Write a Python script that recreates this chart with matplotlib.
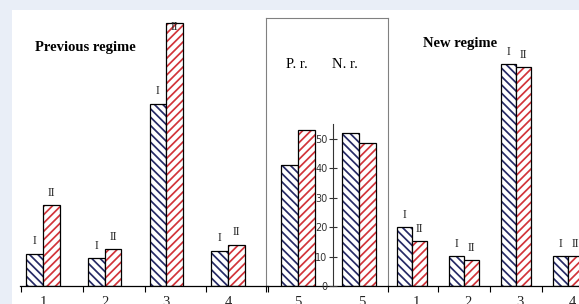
import numpy as np
import matplotlib.pyplot as plt
from matplotlib.patches import Rectangle

plt.rcParams['hatch.linewidth'] = 1.25
SERIF = 'Liberation Serif'

# data
prev_labels = ['1', '2', '3', '4']
prev_I = [11, 9.5, 62, 12]
prev_II = [27.5, 12.6, 89.5, 14]

mid_labels = ['5', '5']          # P.r. / N.r.
mid_I = [41, 52]
mid_II = [53, 48.5]

new_labels = ['1', '2', '3', '4']
new_I = [20, 10.2, 75.5, 10.2]
new_II = [15.3, 8.8, 74.5, 10.2]

inner_ticks = [0, 10, 20, 30, 40, 50]

NAVY = '#262a66'
RED = '#d2343a'
W, H = 579, 304
S = 2.94      # px per unit
BASE = 286    # baseline, px from top

fig = plt.figure(figsize=(W / 100, H / 100), dpi=100, facecolor='#e9eef7')
fig.patches.append(Rectangle((12 / W, 0), 1, (H - 10) / H, transform=fig.transFigure,
                             facecolor='white', edgecolor='none', zorder=-10))


def axes_px(x0, x1, ytop):
    ax = fig.add_axes([x0 / W, (H - BASE) / H, (x1 - x0) / W, (BASE - ytop) / H])
    ax.set_ylim(0, (BASE - ytop) / S)
    ax.patch.set_alpha(0)
    ax.set_yticks([])
    for s in ['top', 'right', 'left']:
        ax.spines[s].set_visible(False)
    ax.spines['bottom'].set_linewidth(0.9)
    return ax


def pair(ax, x, a, b, w):
    x = np.asarray(x, float)
    for off, v, col, h in [(-w / 2, a, NAVY, '\\\\\\\\'), (w / 2, b, RED, '////')]:
        ax.bar(x + off, v, w, facecolor='white', edgecolor=col, hatch=h, linewidth=0)
        ax.bar(x + off, v, w, fill=False, edgecolor='black', linewidth=0.9)


def roman(ax, x, a, b, w, cap):
    for xi, ai, bi in zip(x, a, b):
        ax.text(xi - w / 2, min(ai + 4.2, cap), 'I', ha='center', va='center',
                family=SERIF, fontsize=8.5, color='#222')
        ax.text(xi + w / 2, min(bi + 4.2, cap), 'II', ha='center', va='center',
                family=SERIF, fontsize=8.5, color='#222')


def xlabels(ax, x, labels):
    ax.set_xticks(x, labels, minor=True)
    ax.tick_params(axis='x', which='minor', length=0, pad=7, labelsize=10.5,
                   labelfontfamily=SERIF, labelcolor='#222')
    ax.tick_params(axis='x', which='major', direction='out', length=4, width=0.8)


# previous regime
axL = axes_px(12, 268, 10)
axL.set_xlim((12 - 43) / 61.67, (268 - 43) / 61.67)
xl = np.arange(len(prev_labels))
pair(axL, xl, prev_I, prev_II, 0.27)
roman(axL, xl, prev_I, prev_II, 0.27, 88)
axL.set_xticks(np.arange(5) - 0.35, [''] * 5)
axL.spines['bottom'].set_bounds(-0.37, (268 - 43) / 61.67)
xlabels(axL, xl, prev_labels)

# box with both "5" groups
axB = axes_px(266, 388, 18)
axB.set_xlim((266 - 298) / 61, (388 - 298) / 61)
xb = np.arange(len(mid_labels))
pair(axB, xb, mid_I, mid_II, 0.28)
for s in ['top', 'right', 'left']:
    axB.spines[s].set_visible(True)
    axB.spines[s].set_color('#808080')
    axB.spines[s].set_linewidth(0.8)
axB.set_xticks(axB.get_xlim(), ['', ''])
xlabels(axB, [0, 1.05], mid_labels)

# inner value axis
lo, hi = axB.get_ylim()
axI = fig.add_axes([333 / W, (H - BASE) / H, 0.0001, (BASE - 18) / H])
axI.set_ylim(lo, hi)
axI.patch.set_alpha(0)
for s in ['top', 'right', 'bottom']:
    axI.spines[s].set_visible(False)
axI.spines['left'].set_bounds(0, 55)
axI.spines['left'].set_linewidth(0.8)
axI.spines['left'].set_color('#333')
axI.set_xticks([])
axI.set_yticks(inner_ticks)
axI.tick_params(axis='y', direction='inout', length=6, width=0.8, pad=1,
                labelsize=7, colors='#333')

# new regime
axR = axes_px(388, 579, 10)
axR.set_xlim((388 - 412) / 52, (579 - 412) / 52)
xr = np.arange(len(new_labels))
pair(axR, xr, new_I, new_II, 0.29)
roman(axR, xr, new_I, new_II, 0.29, 88)
axR.set_xticks([0.5, 1.5, 2.5], ['', '', ''])
xlabels(axR, xr + 0.08, new_labels)

# headings
fig.text(35 / W, 1 - 47 / H, 'Previous regime', family=SERIF, fontweight='bold',
         fontsize=10.5, va='center', ha='left')
fig.text(423 / W, 1 - 43 / H, 'New regime', family=SERIF, fontweight='bold',
         fontsize=10.5, va='center', ha='left')
fig.text(297 / W, 1 - 65 / H, 'P. r.', family=SERIF, fontsize=10.5,
         va='center', ha='center')
fig.text(345 / W, 1 - 65 / H, 'N. r.', family=SERIF, fontsize=10.5,
         va='center', ha='center')

fig.savefig('out.png', dpi=100, facecolor=fig.get_facecolor())
